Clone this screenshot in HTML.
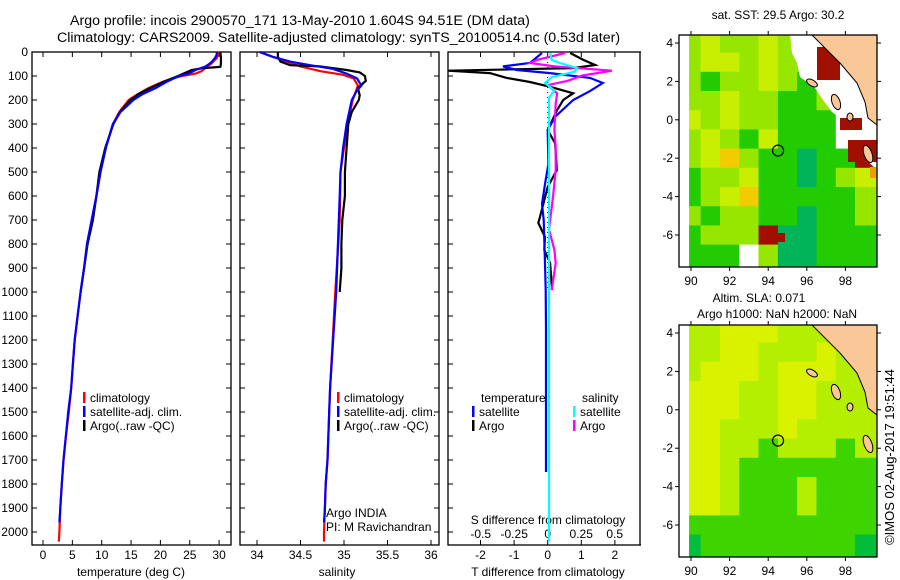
<!DOCTYPE html>
<html><head><meta charset="utf-8"><style>
html,body{margin:0;padding:0;background:#fff;}
svg{display:block;font-family:"Liberation Sans",sans-serif;}
text{font-size:12px;fill:#000;}
</style></head><body>
<svg id="fig" width="900" height="580" viewBox="0 0 900 580">
<g>
<text x="70" y="25" text-anchor="start" style="font-size:14.2px">Argo profile: incois 2900570_171 13-May-2010 1.604S 94.51E (DM data)</text>
<text x="57" y="42" text-anchor="start" style="font-size:14.2px">Climatology: CARS2009. Satellite-adjusted climatology: synTS_20100514.nc (0.53d later)</text>
</g>
<g id="layer"></g>
</svg>
<script>
// ---- Temperature panel data (depth m, deg C)
const tClimDepth=[0,10,25,40,50,60,70,80,90,100,110,125,150,175,200,250,300,400,500,600,700,800,900,1000,1100,1200,1300,1400,1500,1600,1700,1800,1900,2000,2040];
const tClim=[29.9,29.8,29.6,29.0,28.6,28.0,27.5,27.0,26.0,23.6,22.0,20.3,18.0,16.2,14.6,13.0,11.9,10.7,9.8,9.1,8.3,7.5,7.0,6.4,5.9,5.4,5.1,4.8,4.4,3.9,3.5,3.2,2.95,2.8,2.7];
const tSatDepth=[0,10,25,40,50,60,75,90,100,110,125,150,175,200,250,300,400,500,600,700,800,900,1000,1100,1200,1300,1400,1500,1600,1700,1800,1900,1960];
const tSat=[29.6,29.6,29.3,28.8,28.3,27.7,26.0,24.8,23.2,22.3,21.0,19.2,17.0,15.4,13.2,11.9,10.7,9.8,9.1,8.3,7.5,7.0,6.4,5.9,5.4,5.1,4.8,4.3,3.9,3.5,3.2,2.95,2.8];
const tArgoDepth=[0,20,50,62,68,75,100,125,150,175,200,250,300,400,500,600,700,800,900,1000];
const tArgo=[30.2,30.3,30.3,30.2,27.0,25.3,23.0,20.5,18.3,16.3,14.9,13.1,12.0,10.6,9.6,9.1,8.5,7.6,7.0,6.4];
const tTicks=[0,5,10,15,20,25,30];
// ---- Salinity panel data
const sClimDepth=[0,20,40,60,80,95,110,140,200,300,400,500,700,1000,1400,1500,1700,1800,1900,2000,2040];
const sClim=[34.03,34.18,34.34,34.5,34.73,34.99,35.11,35.16,35.1,35.04,35.0,34.96,34.95,34.9,34.84,34.83,34.81,34.79,34.78,34.77,34.77];
const sSatDepth=[0,20,40,55,70,90,110,140,160,200,300,400,500,600,1000,1400,1500,1700,1800,1900,1960];
const sSat=[34.03,34.18,34.38,34.61,34.87,35.03,35.15,35.2,35.15,35.09,35.03,34.99,34.96,34.95,34.91,34.84,34.83,34.81,34.79,34.78,34.77];
const sArgoDepth=[0,20,40,55,60,75,85,100,120,150,180,200,250,300,400,500,600,700,800,900,1000];
const sArgo=[34.24,34.24,34.27,34.38,34.72,35.03,35.18,35.24,35.25,35.16,35.18,35.17,35.09,35.05,35.03,35.01,35.01,34.98,34.97,34.97,34.95];
const sTicks=[34,34.5,35,35.5,36];
// ---- Difference panel data
const dTArgoDepth=[4,33,54,67,78,88,108,125,145,172,200,242,325,380,492,562,687,712,771,825,879,992];
const dTArgo=[0.67,1.06,1.41,0.76,-2.97,-1.72,-1.22,-0.53,0.07,0.76,0.46,0.28,0,0.22,0.27,0,-0.23,-0.28,-0.08,-0.1,0.07,0.13];
const dTSatDepth=[4,46,60,75,88,108,129,163,200,270,325,467,550,633,700,880,992,1150,1300,1500,1750];
const dTSat=[-0.17,-0.53,-1.33,-0.92,0.07,1.26,1.64,1.26,0.76,0.22,0,0.02,-0.08,-0.17,-0.12,-0.08,-0.06,-0.05,-0.05,-0.05,-0.05];
const dSArgoDepth=[4,33,46,60,78,98,120,138,172,215,325,395,492,600,740,825,880,992];
const dSArgo=[0.13,-0.08,-0.13,0.05,0.48,0.26,0.15,0,0.07,0.06,0.05,0.06,0.06,0.04,0.01,0.05,0.06,0.03];
const dSSatDepth=[4,33,46,67,82,105,129,160,190,300,600,1000,1500,2000,2040];
const dSSat=[0.02,0.03,0.09,0.22,0.2,0.03,-0.02,0.05,0.01,0.01,0.01,0.01,0.01,0.01,0.01];
const dTTicks=[-2,-1,0,1,2];
const dSTicks=[-0.5,-0.25,0,0.25,0.5];
const dSTickLabels=["-0.5","-0.25","0","0.25","0.5"];
const depthTicks=[0,100,200,300,400,500,600,700,800,900,1000,1100,1200,1300,1400,1500,1600,1700,1800,1900,2000];
// ---- Maps (1-degree cells, rows from lat 4 downward, cols lon 90..99)
const sstGrid=["lyllyllwww","lyylyllwrw","lgllylggww","llyllgglww","ylyllgggwr","lylgygggwr","lyolggtggr","gllyggtgly","glyogggggl","lgllggtggl","glllrttggg","gggwlttggg"];
const slaGrid=["llyyylllll","llyylllyll","lyyylyyyll","yyyllyylll","yyyllyylll","yylllyllll","yyllglllgl","yylggggggg","yylggglggg","yylggglggg","gggggggggg","tggggggggt"];
const lonTicks=[90,92,94,96,98];
const latTicks=[4,2,0,-2,-4,-6];
const argoLon=94.51, argoLat=-1.604;

const NS="http://www.w3.org/2000/svg";
const L=document.getElementById('layer');
function mk(tag,attrs,parent){const e=document.createElementNS(NS,tag);for(const k in attrs)e.setAttribute(k,attrs[k]);(parent||L).appendChild(e);return e;}
function txt(x,y,s,anchor,parent,size){const t=mk('text',{x:x,y:y,'text-anchor':anchor||'middle'},parent);if(size)t.style.fontSize=size+'px';t.textContent=s;return t;}

const pTop=52,pBot=545;
const yD=d=>pTop+d*0.24;
function panel(x0,x1,name){
  const g=mk('g',{});
  
  
  const r=mk('rect',{x:x0,y:pTop,width:x1-x0,height:pBot-pTop,fill:'none',stroke:'#000','stroke-width':1.3},g);
  
  
  depthTicks.forEach(d=>{mk('line',{x1:x0,x2:x0+5,y1:yD(d),y2:yD(d),stroke:'#000'},g);mk('line',{x1:x1,x2:x1-5,y1:yD(d),y2:yD(d),stroke:'#000'},g);});
  return g;
}
function series(depths,vals,xf,color,name,parent){
  const pts=depths.map((d,i)=>xf(vals[i]).toFixed(1)+','+yD(d).toFixed(1)).join(' ');
  const p=mk('polyline',{points:pts,fill:'none',stroke:color,'stroke-width':2.2,'stroke-linejoin':'miter'},parent);
  
  
}
function legend(x,y,items,parent,name){
  const g=mk('g',{},parent);
  
  
  items.forEach((it,i)=>{mk('rect',{x:x,y:y+i*14-10,width:2.5,height:11,fill:it[1]},g);txt(x+7,y+i*14,it[0],'start',g);});
}

// Panel 1 temperature
const xT=v=>43+v*5.87;
const p1=panel(32,231,'temperature-panel');
const ya=mk('g',{});
depthTicks.forEach(d=>txt(28,yD(d)+4,String(d),'end',ya));
tTicks.forEach(v=>{mk('line',{x1:xT(v),x2:xT(v),y1:pBot,y2:pBot-5,stroke:'#000'},p1);mk('line',{x1:xT(v),x2:xT(v),y1:pTop,y2:pTop+5,stroke:'#000'},p1);txt(xT(v),559,String(v),'middle',p1);});
txt(131,576,'temperature (deg C)','middle',p1);
series(tClimDepth,tClim,xT,'#f00','temp-climatology-line',p1);
series(tArgoDepth,tArgo,xT,'#000','temp-argo-line',p1);
series(tSatDepth,tSat,xT,'#00f','temp-satellite-line',p1);
legend(83,402,[['climatology','#f00'],['satellite-adj. clim.','#00f'],['Argo(..raw -QC)','#000']],p1,'temp-legend');

// Panel 2 salinity
const xS=v=>257+(v-34)*87;
const p2=panel(240,439,'salinity-panel');
sTicks.forEach(v=>{mk('line',{x1:xS(v),x2:xS(v),y1:pBot,y2:pBot-5,stroke:'#000'},p2);mk('line',{x1:xS(v),x2:xS(v),y1:pTop,y2:pTop+5,stroke:'#000'},p2);txt(xS(v),559,String(v),'middle',p2);});
txt(337,576,'salinity','middle',p2);
series(sClimDepth,sClim,xS,'#f00','sal-climatology-line',p2);
series(sArgoDepth,sArgo,xS,'#000','sal-argo-line',p2);
series(sSatDepth,sSat,xS,'#00f','sal-satellite-line',p2);
legend(337,402,[['climatology','#f00'],['satellite-adj. clim.','#00f'],['Argo(..raw -QC)','#000']],p2,'sal-legend');
txt(326,517,'Argo INDIA','start',p2);txt(326,531,'PI: M Ravichandran','start',p2);

// Panel 3 differences
const xDT=v=>547.7+v*33.6;
const xDS=v=>547.7+v*134;
const p3=panel(448,660,'difference-panel');
dTTicks.forEach(v=>{mk('line',{x1:xDT(v),x2:xDT(v),y1:pBot,y2:pBot-5,stroke:'#000'},p3);mk('line',{x1:xDT(v),x2:xDT(v),y1:pTop,y2:pTop+5,stroke:'#000'},p3);txt(xDT(v),559,String(v),'middle',p3);});
dSTicks.forEach((v,i)=>txt(xDS(v),538,dSTickLabels[i],'middle',p3));
txt(548,524,'S difference from climatology','middle',p3);
txt(548,576,'T difference from climatology','middle',p3);
mk('line',{x1:xDT(0),x2:xDT(0),y1:pTop,y2:yD(1000),stroke:'#000','stroke-dasharray':'1,4'},p3);
series(dTArgoDepth,dTArgo,xDT,'#000','t-diff-argo-line',p3);
series(dTSatDepth,dTSat,xDT,'#00f','t-diff-satellite-line',p3);
series(dSArgoDepth,dSArgo,xDS,'#f0f','s-diff-argo-line',p3);
series(dSSatDepth,dSSat,xDS,'#0ff','s-diff-satellite-line',p3);
txt(481,402,'temperature','start',p3);
legend(472,416,[['satellite','#00f'],['Argo','#000']],p3,'t-diff-legend');
txt(582,402,'salinity','start',p3);
legend(573,416,[['satellite','#0ff'],['Argo','#f0f']],p3,'s-diff-legend');
const cover=mk('rect',{x:641,y:40,width:30,height:520,fill:'#fff'});

mk('line',{x1:640,x2:640,y1:pTop,y2:pBot,stroke:'#000','stroke-width':1.3});

// Maps
const sstCol={l:'#96e600',y:'#c8ee00',g:'#22cc00',o:'#f0cc00',t:'#00b45a',w:'#ffffff',r:'#a01000',' ':'#66dd00'};
const slaCol={l:'#b4ee00',y:'#d8f200',g:'#3ed400',t:'#00be3c',' ':'#c4f000'};
function map(y0,grid,cols,name,titles){
  const g=mk('g',{});
  
  
  const x0=679,x1=877,y1=y0+232;
  const lx=lon=>691+(lon-90)*19.3;
  const ly=lat=>y0+8+(4-lat)*19.2;
  const cells=mk('g',{},g);
  
  
  grid.forEach((row,r)=>{for(let c=0;c<10;c++){const ch=row[c]||' ';
    const x=c===0?lx(89.9):lx(89.5+c);const w=(c===9?x1:lx(90.5+c))-x;
    const yy=r===0?y0:ly(4.5-r);const h=(r===11?y1:ly(3.5-r))-yy;
    mk('rect',{x:x.toFixed(1),y:yy.toFixed(1),width:(w+0.5).toFixed(1),height:(h+0.5).toFixed(1),fill:cols[ch]||cols[' ']},cells);}});
  const dy=y0-35;
  if(name==='sst-map'){
    mk('polygon',{points:`790,${35+dy} 792,${53+dy} 797,${63+dy} 800,${77+dy} 815,${88+dy} 823,${100+dy} 832,${112+dy} 840,${118+dy} 840,${130+dy} 848,${143+dy} 877,${170+dy} 877,${35+dy}`,fill:'#fff'},g);
    [[817,47,23,33],[840,118,22,12],[848,140,29,22],[777,233,8,9]].forEach(a=>mk('rect',{x:a[0],y:a[1],width:a[2],height:a[3],fill:'#a01000'},g));
    mk('rect',{x:870,y:167,width:7,height:11,fill:'#e8a000'},g);
  }
  mk('polygon',{points:`812,${35+dy} 827,${50+dy} 840,${63+dy} 857,${83+dy} 865,${102+dy} 868,${118+dy} 877,${125+dy} 877,${35+dy}`,fill:'#f9c896',stroke:'#000','stroke-width':1},g);
  [[812,83,6,3,30],[836,102,4,8,-20],[868,154,4,9,-20],[850,117,3,4,0]].forEach(a=>mk('ellipse',{cx:a[0],cy:a[1]+dy,rx:a[2],ry:a[3],transform:`rotate(${a[4]} ${a[0]} ${a[1]+dy})`,fill:'#f9c896',stroke:'#000','stroke-width':1},g));
  mk('rect',{x:x0,y:y0,width:x1-x0,height:232,fill:'none',stroke:'#000','stroke-width':1.3},g);
  const mk2=mk('circle',{cx:lx(argoLon),cy:ly(argoLat),r:5.5,fill:'none',stroke:'#000','stroke-width':1.2},g);
  
  
  lonTicks.forEach(v=>{mk('line',{x1:lx(v),x2:lx(v),y1:y0,y2:y0-4,stroke:'#000'},g);mk('line',{x1:lx(v),x2:lx(v),y1:y1,y2:y1+4,stroke:'#000'},g);txt(lx(v),y1+18,String(v),'middle',g);});
  latTicks.forEach(v=>{mk('line',{x1:x0,x2:x0-4,y1:ly(v),y2:ly(v),stroke:'#000'},g);mk('line',{x1:x1,x2:x1+4,y1:ly(v),y2:ly(v),stroke:'#000'},g);txt(673,ly(v)+4,String(v),'end',g);});
  titles.forEach(t=>txt(t[0],t[1],t[2],'middle',g));
}
map(35,sstGrid,sstCol,'sst-map',[[778,19,'sat. SST: 29.5 Argo: 30.2']]);
map(325,slaGrid,slaCol,'sla-map',[[759,302,'Altim. SLA: 0.071'],[777,318,'Argo h1000: NaN h2000: NaN']]);
const cp=txt(0,0,'©IMOS 02-Aug-2017 19:51:44','middle',null,13);
cp.setAttribute('transform','translate(894,457) rotate(-90)');


</script>
</body></html>
